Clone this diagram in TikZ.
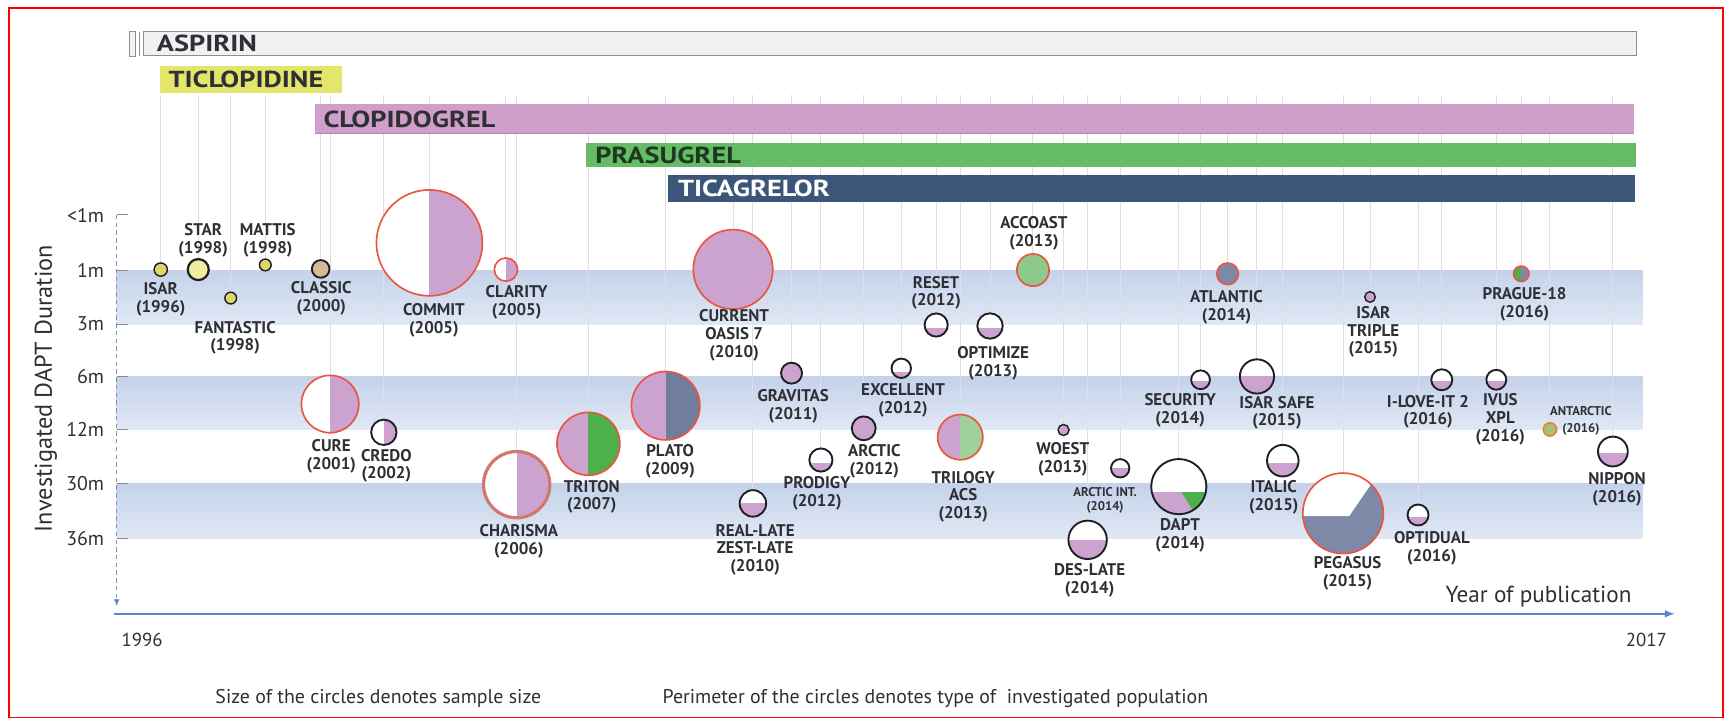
\documentclass[tikz,border=0pt]{standalone}
\usepackage{fontspec}
\setmainfont{PT Sans}
\newfontfamily\titlefont{PT Sans}[FakeStretch=1.22]
\usetikzlibrary{calc,arrows.meta}
\pgfdeclarelayer{paper}
\pgfdeclarelayer{bands}
\pgfdeclarelayer{guides}
\pgfsetlayers{paper,bands,guides,main}

\definecolor{ink}{HTML}{1E1E24}
\definecolor{labgray}{HTML}{2F3036}
\definecolor{lilac}{HTML}{CBA3CE}
\definecolor{clopi}{HTML}{D09FC9}
\definecolor{clopiedge}{HTML}{B08AB0}
\definecolor{ticlo}{HTML}{E3E66A}
\definecolor{prasu}{HTML}{66BC66}
\definecolor{prasutext}{HTML}{1E3A1E}
\definecolor{ticag}{HTML}{3B5679}
\definecolor{aspfill}{HTML}{F1F1F3}
\definecolor{aspedge}{HTML}{8E8E92}
\definecolor{ringred}{HTML}{E9553F}
\definecolor{tgreen}{HTML}{4DB04B}
\definecolor{lgreen}{HTML}{9FD19B}
\definecolor{agreen}{HTML}{8CC98A}
\definecolor{slate}{HTML}{717D9C}
\definecolor{slatelight}{HTML}{7E89A8}
\definecolor{dotyellow}{HTML}{DED766}
\definecolor{staryellow}{HTML}{F1EC9E}
\definecolor{tanfill}{HTML}{D3BC95}
\definecolor{bandtop}{HTML}{C4D2EA}
\definecolor{bandbot}{HTML}{E0E8F4}
\definecolor{axisblue}{HTML}{5B87C6}
\definecolor{axisdash}{HTML}{7B93BD}
\definecolor{tickgray}{HTML}{8A8A8E}
\definecolor{guidegray}{HTML}{DFDFE3}
\definecolor{olivefill}{HTML}{A3C27A}
\definecolor{orangering}{HTML}{F08030}
\definecolor{charred}{HTML}{E07C74}
\definecolor{chardash}{HTML}{9C7A78}

\tikzset{
  cir/.style={circle, inner sep=0pt, outer sep=0pt, minimum size={2*#1pt}, fill=white},
  blk/.style={draw=ink, line width=1.7pt},
  thinblk/.style={draw=ink, line width=1.3pt},
  rring/.style={draw=ringred, line width=1.5pt},
  vsplit/.style 2 args={path picture={
      \fill[#1] (path picture bounding box.south west) rectangle (path picture bounding box.north);
      \fill[#2] (path picture bounding box.south) rectangle (path picture bounding box.north east);}},
  hsplit/.style={path picture={
      \fill[lilac] (path picture bounding box.south west) rectangle ([yshift=-#1pt]path picture bounding box.east);}},
  lab/.style={font=\bfseries\fontsize{15.3}{16.2}\selectfont, text=labgray, align=center, inner sep=0pt},
  slab/.style={font=\bfseries\fontsize{11.5}{12.5}\selectfont, text=labgray, align=center, inner sep=0pt},
  ttl/.style={font=\titlefont\bfseries\fontsize{21}{24}\selectfont, text=labgray, anchor=west, inner sep=0pt},
  ticklab/.style={font=\fontsize{18}{20}\selectfont, text=labgray, anchor=east, inner sep=0pt},
  guide/.style={draw=guidegray, line width=0.9pt},
  band/.style={top color=bandtop, bottom color=bandbot},
}

\begin{document}
\begin{tikzpicture}[x=1pt, y=-1pt]
\useasboundingbox (0,0) rectangle (1568,656);
\begin{pgfonlayer}{paper}
\fill[white] (0,0) rectangle (1568,656);
\end{pgfonlayer}
\draw[red, line width=1.6pt] (8,7) rectangle (1561,650);

% drug bars
\draw[aspedge, fill=aspfill, line width=0.8pt] (117,28.7) rectangle (122.3,50.7);
\draw[aspedge, line width=0.8pt] (126,28.7) -- (126,50.7);
\draw[aspedge, fill=aspfill, line width=0.9pt] (129.8,28.7) rectangle (1482,50.7);
\node[ttl] (aspirin) at (142,39.7) {ASPIRIN};
\fill[ticlo] (145,59.5) rectangle (309.5,84);
\node[ttl] (ticlopidine) at (152.5,71.5) {TICLOPIDINE};
\fill[clopi] (285,94.2) rectangle (1480.5,121.7);
\draw[clopiedge, line width=1pt] (285,121.2) -- (1480.5,121.2);
\node[ttl] (clopidogrel) at (293,108) {CLOPIDOGREL};
\fill[prasu] (531,129.4) rectangle (1482,151.5);
\node[ttl, text=prasutext] (prasugrel) at (539,140.5) {PRASUGREL};
\fill[ticag] (605,158.5) rectangle (1481,183);
\node[ttl, text=white] (ticagrelor) at (614,170.8) {TICAGRELOR};

% duration bands
\begin{pgfonlayer}{bands}
\shade[band] (105.7,244.6) rectangle (1488,293.5);
\shade[band] (105.7,341.2) rectangle (1488,388.9);
\shade[band] (105.7,438.4) rectangle (1488,487.6);
\end{pgfonlayer}

% vertical axis with ticks
\coordinate (ytop) at (105.7,194.7);
\coordinate (ybot) at (105.7,549);
\draw[axisdash, line width=0.9pt, dash pattern=on 4pt off 3pt] (ytop) -- ([yshift=6pt]ybot);
\draw[axisblue, line width=0.9pt, -{Latex[length=6pt,width=5pt]}] ([yshift=6pt]ybot) -- (ybot);
\foreach \yy/\tl in {194.7/<1m, 244.6/1m, 293.5/3m, 341.2/6m, 388.9/12m, 438.4/30m, 487.6/36m}{
  \draw[tickgray, line width=0.9pt] (105.7,\yy) -- (116.2,\yy);
  \node[ticklab] at (94.5,\yy) {\tl};
}
\node[rotate=90, font=\fontsize{22}{24}\selectfont, text=labgray, inner sep=0pt] (ylab) at (41.6,352) {Investigated DAPT Duration};

% horizontal axis
\coordinate (xorig) at (103,556);
\coordinate (xend) at (1517,556);
\draw[axisblue, line width=1.3pt, -{Latex[length=9pt,width=7pt]}] (xorig) -- (xend);
\node[font=\fontsize{21}{24}\selectfont, text=labgray, anchor=base east, inner sep=0pt] (xlab) at (1478,546) {Year of publication};
\node[font=\fontsize{17}{18}\selectfont, text=labgray, anchor=base west, inner sep=0pt] (ystart) at (110,586) {1996};
\node[font=\fontsize{17}{18}\selectfont, text=labgray, anchor=base east, inner sep=0pt] (yend) at (1510,586) {2017};

% legend notes
\node[font=\fontsize{18}{20}\selectfont, text=labgray, anchor=base west, inner sep=0pt] (note1) at (195,637) {Size of the circles denotes sample size};
\node[font=\fontsize{18}{20}\selectfont, text=labgray, anchor=base west, inner sep=0pt] (note2) at (600,637) {Perimeter of the circles denotes type of\ \ investigated population};

% trials
\node[cir=6, fill=dotyellow, thinblk] (isar) at (145.6,244.2) {};
\node[cir=9.5, fill=staryellow, blk, line width=2pt] (star) at (179.6,244.2) {};
\node[cir=5.3, fill=dotyellow, thinblk] (fantastic) at (209,270) {};
\node[cir=5.3, fill=dotyellow, thinblk] (mattis) at (240.3,240) {};
\node[cir=8, fill=tanfill, blk] (classic) at (290.5,243.6) {};
\node[cir=48, rring, vsplit={white}{lilac}] (commit) at (389,220) {};
\node[cir=10.5, rring, vsplit={white}{lilac}] (clarity) at (458.3,244.2) {};
\node[cir=26, rring, vsplit={white}{lilac}] (cure) at (299,366) {};
\node[cir=11.5, blk, vsplit={white}{lilac}] (credo) at (347.7,391.6) {};
\node[cir=30, draw=charred, line width=3pt, vsplit={white}{lilac}] (charisma) at (468,439) {};
\draw[chardash, line width=1.3pt, dash pattern=on 1.5pt off 1.5pt] (charisma.center) circle[radius=30pt];
\node[cir=28.5, rring, vsplit={lilac}{tgreen}] (triton) at (533,402) {};
\node[cir=31, rring, vsplit={lilac}{slate}] (plato) at (603,367.5) {};
\node[cir=36, rring, fill=lilac] (current) at (664,244) {};
\node[cir=12, blk, hsplit=0] (reallate) at (682,456) {};
\node[cir=9.5, blk, fill=lilac] (gravitas) at (717,338) {};
\node[cir=10.5, blk, hsplit=3] (prodigy) at (743.6,416.7) {};
\node[cir=10.8, blk, fill=lilac] (arctic) at (782.4,388) {};
\node[cir=8.8, blk, hsplit=3] (excellent) at (816.4,333.6) {};
\node[cir=10.5, blk, hsplit=3] (reset) at (848,294.4) {};
\node[cir=11.5, blk, hsplit=2] (optimize) at (896.8,295.3) {};
\node[cir=14.6, rring, fill=agreen] (accoast) at (935.7,244.6) {};
\node[cir=20.5, rring, vsplit={lilac}{lgreen}] (trilogy) at (869.8,396) {};
\node[cir=5, thinblk, fill=lilac] (woest) at (963.4,389.5) {};
\node[cir=8.3, blk, hsplit=0] (arcticint) at (1014.7,424.2) {};
\node[cir=17.4, blk, hsplit=0] (deslate) at (985.2,489) {};
\node[cir=25, blk, path picture={
    \fill[lilac] ([yshift=-5pt]path picture bounding box.west) rectangle (path picture bounding box.south east);
    \fill[tgreen] ([xshift=2.5pt,yshift=-5pt]path picture bounding box.center)
      -- ([xshift=30pt,yshift=-5pt]path picture bounding box.center)
      -- ([xshift=30pt,yshift=-30pt]path picture bounding box.center)
      -- ([xshift=18pt,yshift=-30pt]path picture bounding box.center) -- cycle;}] (dapt) at (1067.8,440.8) {};
\node[cir=9.8, rring, fill=slatelight] (atlantic) at (1112,248) {};
\node[cir=8.5, blk, hsplit=1] (security) at (1087.5,344) {};
\node[cir=15.5, blk, hsplit=0] (isarsafe) at (1138.6,341) {};
\node[cir=14.3, blk, hsplit=2] (italic) at (1162,417.3) {};
\node[cir=4.8, thinblk, fill=lilac] (isartriple) at (1241,269) {};
\node[cir=36.5, rring, fill=slatelight, path picture={
    \fill[white] ([xshift=-40pt,yshift=-2.5pt]path picture bounding box.center)
      -- ([xshift=5.5pt,yshift=-2.5pt]path picture bounding box.center)
      -- ([xshift=37.4pt,yshift=44pt]path picture bounding box.center)
      -- ([xshift=-40pt,yshift=44pt]path picture bounding box.center) -- cycle;}] (pegasus) at (1216.6,465) {};
\node[cir=9.5, blk, hsplit=2] (optidual) at (1284.5,466.5) {};
\node[cir=9.5, blk, hsplit=1] (iloveit) at (1306,344) {};
\node[cir=9, blk, hsplit=1] (ivus) at (1355.4,344) {};
\node[cir=7, rring, vsplit={tgreen}{slatelight}] (prague) at (1378,248) {};
\node[cir=6, draw=orangering, line width=1.5pt, fill=olivefill] (antarctic) at (1404,389) {};
\node[cir=13.5, blk, hsplit=1] (nippon) at (1461,409) {};

% trial names
\node[lab] (isar-l) at (145.6,271.3) {ISAR\\(1996)};
\node[lab] (star-l) at (184,217.4) {STAR\\(1998)};
\node[lab] (mattis-l) at (242.6,217.5) {MATTIS\\(1998)};
\node[lab] (fantastic-l) at (213,306) {FANTASTIC\\(1998)};
\node[lab] (classic-l) at (291,270.5) {CLASSIC\\(2000)};
\node[lab] (commit-l) at (393,290) {COMMIT\\(2005)};
\node[lab] (clarity-l) at (468,274) {CLARITY\\(2005)};
\node[lab] (cure-l) at (300,413) {CURE\\(2001)};
\node[lab] (credo-l) at (350,422) {CREDO\\(2002)};
\node[lab] (charisma-l) at (470,490) {CHARISMA\\(2006)};
\node[lab] (triton-l) at (536,450) {TRITON\\(2007)};
\node[lab] (plato-l) at (607,418) {PLATO\\(2009)};
\node[lab] (current-l) at (665,304) {CURRENT\\OASIS 7\\(2010)};
\node[lab] (reallate-l) at (684,498) {REAL-LATE\\ZEST-LATE\\(2010)};
\node[lab] (gravitas-l) at (718.5,368) {GRAVITAS\\(2011)};
\node[lab] (prodigy-l) at (740,447) {PRODIGY\\(2012)};
\node[lab] (arctic-l) at (792,418) {ARCTIC\\(2012)};
\node[lab] (excellent-l) at (818,362.8) {EXCELLENT\\(2012)};
\node[lab] (reset-l) at (848,265.3) {RESET\\(2012)};
\node[lab] (optimize-l) at (899.6,329) {OPTIMIZE\\(2013)};
\node[lab] (accoast-l) at (936.6,211.4) {ACCOAST\\(2013)};
\node[lab] (trilogy-l) at (872.5,450) {TRILOGY\\ACS\\(2013)};
\node[lab] (woest-l) at (962.7,416) {WOEST\\(2013)};
\node[slab] (arcticint-l) at (1001,453.5) {ARCTIC INT.\\(2014)};
\node[lab] (deslate-l) at (987,525.4) {DES-LATE\\(2014)};
\node[lab] (dapt-l) at (1069,484.7) {DAPT\\(2014)};
\node[lab] (atlantic-l) at (1111,278.5) {ATLANTIC\\(2014)};
\node[lab] (security-l) at (1069,371.5) {SECURITY\\(2014)};
\node[lab] (isarsafe-l) at (1156.7,374) {ISAR SAFE\\(2015)};
\node[lab] (italic-l) at (1153.8,450.6) {ITALIC\\(2015)};
\node[lab] (isartriple-l) at (1244,300.6) {ISAR\\TRIPLE\\(2015)};
\node[lab] (pegasus-l) at (1220.6,519.3) {PEGASUS\\(2015)};
\node[lab] (optidual-l) at (1297,496.6) {OPTIDUAL\\(2016)};
\node[lab] (iloveit-l) at (1293.5,373) {I-LOVE-IT 2\\(2016)};
\node[lab] (ivus-l) at (1359,380) {IVUS\\XPL\\(2016)};
\node[lab] (prague-l) at (1381,275.5) {PRAGUE-18\\(2016)};
\node[slab] (antarctic-l) at (1432,372) {ANTARCTIC};
\node[slab] (antarctic-y) at (1432,389) {(2016)};
\node[lab] (nippon-l) at (1464.8,443.5) {NIPPON\\(2016)};

% publication-year guides from the bars down to each trial
\coordinate (gtop) at (0,86);
\begin{pgfonlayer}{guides}
\foreach \n in {isar,star,fantastic,mattis,classic,commit,clarity,cure,credo,charisma,triton,plato,current,reallate,gravitas,prodigy,arctic,excellent,reset,optimize,accoast,trilogy,woest,arcticint,deslate,dapt,atlantic,security,isarsafe,italic,isartriple,pegasus,optidual,iloveit,ivus,prague,antarctic,nippon}{
  \draw[guide] (\n |- gtop) -- (\n.center);
}
\end{pgfonlayer}
\end{tikzpicture}
\end{document}
